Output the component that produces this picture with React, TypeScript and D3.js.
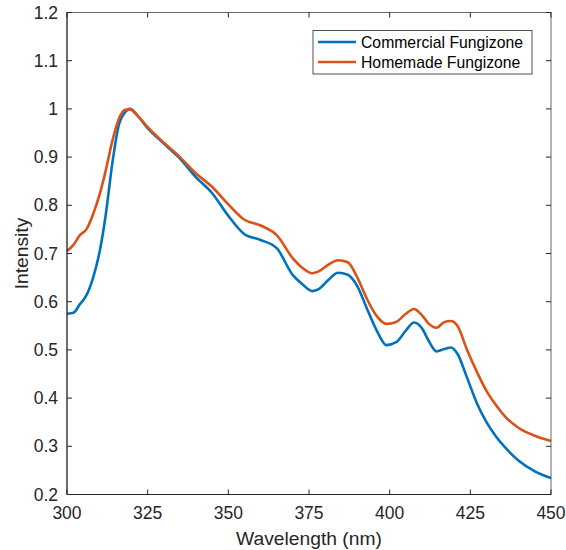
import React from "react";
import * as d3 from "d3";

const wavelengths = [300, 302, 304, 306, 308, 310, 312, 314, 316, 318, 319.5, 322, 325, 330, 335, 340, 345, 350, 355, 360, 365, 370, 373, 376, 378, 381, 384, 387, 390, 393, 396, 399, 402, 405, 407.5, 410, 412, 414.5, 417, 419, 421, 424, 427, 430, 433, 436, 440, 445, 450];
const commercial = [0.575, 0.577, 0.595, 0.613, 0.648, 0.70, 0.78, 0.885, 0.965, 0.993, 1.0, 0.985, 0.96, 0.928, 0.897, 0.858, 0.825, 0.778, 0.74, 0.728, 0.711, 0.655, 0.636, 0.622, 0.626, 0.645, 0.66, 0.656, 0.632, 0.585, 0.54, 0.51, 0.516, 0.54, 0.557, 0.545, 0.52, 0.497, 0.502, 0.505, 0.492, 0.442, 0.39, 0.35, 0.32, 0.296, 0.27, 0.248, 0.234];
const homemade = [0.705, 0.718, 0.738, 0.75, 0.78, 0.82, 0.872, 0.932, 0.978, 0.998, 0.999, 0.985, 0.962, 0.93, 0.9, 0.866, 0.838, 0.802, 0.77, 0.758, 0.738, 0.69, 0.67, 0.659, 0.663, 0.677, 0.686, 0.682, 0.65, 0.605, 0.57, 0.554, 0.558, 0.575, 0.585, 0.572, 0.555, 0.546, 0.558, 0.56, 0.55, 0.5, 0.455, 0.415, 0.385, 0.36, 0.338, 0.322, 0.311];
const xTicks = [300, 325, 350, 375, 400, 425, 450];
const yTicks = [0.2, 0.3, 0.4, 0.5, 0.6, 0.7, 0.8, 0.9, 1.0, 1.1, 1.2];
const seriesNames = ["Commercial Fungizone", "Homemade Fungizone"];
const seriesColors = ["#0072BD", "#D95319"];

export default function App() {
  const W = 566, H = 550;
  const left = 67, right = 551, top = 12.5, bottom = 494.5;
  const x = d3.scaleLinear().domain([300, 450]).range([left, right]);
  const y = d3.scaleLinear().domain([0.2, 1.2]).range([bottom, top]);
  const line = d3.line<[number, number]>().x(d => x(d[0])).y(d => y(d[1])).curve(d3.curveMonotoneX);
  const series = [commercial, homemade];
  const axisColor = "#262626";
  const font = "'Liberation Sans', Arial, sans-serif";
  const tickLen = 5;
  return (
    <svg width={W} height={H} style={{ position: "absolute", left: 0, top: 0, background: "#fff" }} fontFamily={font}>
      <rect x={0} y={0} width={W} height={H} fill="#fff" />
      {series.map((s, i) => (
        <path key={i} d={line(wavelengths.map((w, j) => [w, s[j]] as [number, number])) || ""} fill="none" stroke={seriesColors[i]} strokeWidth={2.6} strokeLinejoin="round" />
      ))}
      <rect x={left} y={top} width={right - left} height={bottom - top} fill="none" stroke={axisColor} strokeWidth={1} opacity={0.7} />
      {xTicks.map(t => (
        <g key={"x" + t}>
          <line x1={x(t)} x2={x(t)} y1={bottom} y2={bottom - tickLen} stroke={axisColor} />
          <line x1={x(t)} x2={x(t)} y1={top} y2={top + tickLen} stroke={axisColor} />
          <text x={x(t)} y={bottom + 24} textAnchor="middle" fontSize={17.5} fill={axisColor}>{t}</text>
        </g>
      ))}
      {yTicks.map(t => (
        <g key={"y" + t}>
          <line x1={left} x2={left + tickLen} y1={y(t)} y2={y(t)} stroke={axisColor} />
          <line x1={right} x2={right - tickLen} y1={y(t)} y2={y(t)} stroke={axisColor} />
          <text x={left - 9} y={y(t) + 6} textAnchor="end" fontSize={17.5} fill={axisColor}>{d3.format("~g")(t)}</text>
        </g>
      ))}
      <line x1={left} x2={left} y1={top} y2={bottom} stroke={axisColor} />
      <line x1={left} x2={right} y1={bottom} y2={bottom} stroke={axisColor} />
      <text x={(left + right) / 2} y={545} textAnchor="middle" fontSize={19.25} fill={axisColor}>Wavelength (nm)</text>
      <text transform={`translate(28, ${(top + bottom) / 2}) rotate(-90)`} textAnchor="middle" fontSize={19.25} fill={axisColor}>Intensity</text>
      <g>
        <rect x={313} y={30.5} width={219} height={43.5} fill="#fff" stroke={axisColor} strokeWidth={0.8} />
        {seriesNames.map((n, i) => (
          <g key={n}>
            <line x1={318} x2={356} y1={42 + i * 20} y2={42 + i * 20} stroke={seriesColors[i]} strokeWidth={2.6} />
            <text x={361} y={47.5 + i * 20} fontSize={15.75} fill="#000">{n}</text>
          </g>
        ))}
      </g>
    </svg>
  );
}
